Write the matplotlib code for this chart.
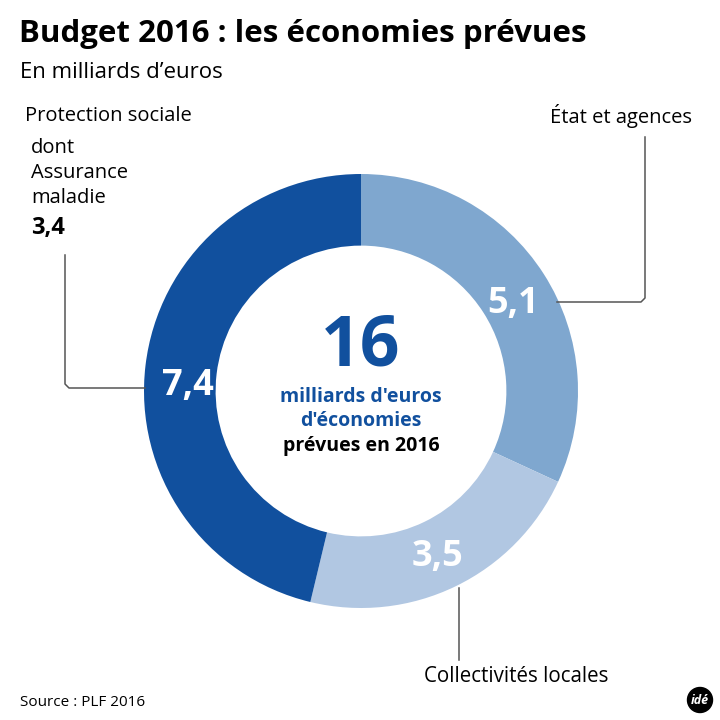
import numpy as np
import matplotlib
matplotlib.use("Agg")
import matplotlib.pyplot as plt

plt.rcParams["font.family"] = ["Open Sans", "DejaVu Sans"]

# data
categories = ["État et agences", "Collectivités locales", "Protection sociale"]
values = [5.1, 3.5, 7.4]
value_labels = ["5,1", "3,5", "7,4"]
colors = ["#7fa7cf", "#b1c7e2", "#11509e"]
total_label = "16"
sub_value = "3,4"

dark = "#11509e"
grey = "#555555"

fig = plt.figure(figsize=(7.2, 7.2), dpi=100)

# donut, centre (361,391) px, outer radius 217 px
cx, cy, R = 361, 391, 217
ax = fig.add_axes([(cx - R) / 720, (720 - cy - R) / 720, 2 * R / 720, 2 * R / 720])
wedges, _ = ax.pie(values, colors=colors, startangle=90, counterclock=False,
                   wedgeprops=dict(width=0.33, edgecolor="none"))
ax.set_xlim(-1, 1)
ax.set_ylim(-1, 1)
ax.set_aspect("equal")
ax.axis("off")

# overlay in pixel coordinates
t = fig.add_axes([0, 0, 1, 1], zorder=5)
t.set_xlim(0, 720)
t.set_ylim(720, 0)
t.axis("off")

# value labels in wedges
nudge = [(0, 6), (-2, 0), (6, 12)]
for w, lab, (dx, dy) in zip(wedges, value_labels, nudge):
    a = np.deg2rad((w.theta1 + w.theta2) / 2)
    r = 0.83 * R
    t.text(cx + r * np.cos(a) + dx, cy - r * np.sin(a) + 4 + dy, lab, color="white",
           fontsize=26, fontweight="bold", ha="center", va="center")

t.text(cx, 348, total_label, color=dark, fontsize=50, fontweight="bold",
       ha="center", va="center")
t.text(cx, 397, "milliards d'euros", color=dark, fontsize=14, fontweight="bold",
       ha="center", va="center")
t.text(cx, 421, "d'économies", color=dark, fontsize=14, fontweight="bold",
       ha="center", va="center")
t.text(cx, 446, "prévues en 2016", color="black", fontsize=14, fontweight="bold",
       ha="center", va="center")

# title
t.text(19, 34, "Budget 2016 : les économies prévues", fontsize=22.5,
       fontweight="bold", va="center", ha="left")
t.text(20, 72, "En milliards d’euros", fontsize=16, va="center", ha="left")

# category labels
t.text(25, 116, categories[2], fontsize=14.5, va="center", ha="left")
t.text(31, 148, "dont", fontsize=14.5, va="center", ha="left")
t.text(31, 173, "Assurance", fontsize=14.5, va="center", ha="left")
t.text(31, 198, "maladie", fontsize=14.5, va="center", ha="left")
t.text(31, 228, sub_value, fontsize=17, fontweight="bold", va="center", ha="left")
t.text(692, 116, categories[0], fontsize=14.5, va="center", ha="right")
t.text(424, 677, categories[1], fontsize=14.8, va="center", ha="left")

# connector lines
t.plot([65, 65, 69, 145], [255, 384, 388, 388], color=grey, lw=1.1)
t.plot([645, 645, 641, 557], [137, 298, 302, 302], color=grey, lw=1.1)
t.plot([459, 459], [588, 660], color=grey, lw=1.1)

t.text(20, 702, "Source : PLF 2016", fontsize=11, va="center", ha="left")

# logo
t.add_patch(plt.Circle((700, 700), 12.5, color="black"))
t.text(700, 701, "idé", color="white", fontsize=9, fontweight="bold",
       style="italic", ha="center", va="center")

fig.savefig("out.png", dpi=100)
